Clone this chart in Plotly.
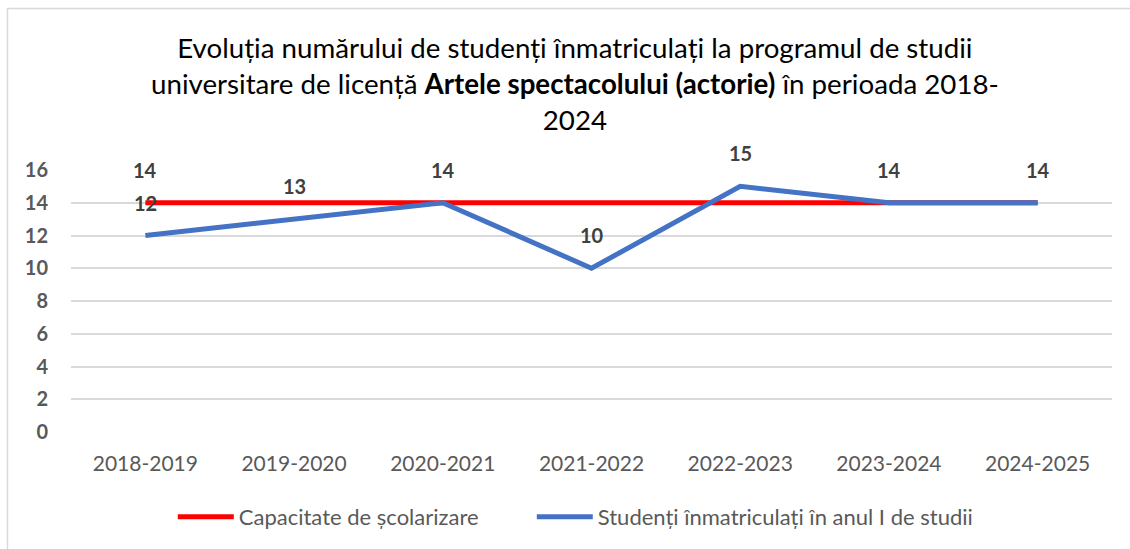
import plotly.graph_objects as go

categories = ["2018-2019", "2019-2020", "2020-2021", "2021-2022", "2022-2023", "2023-2024", "2024-2025"]
capacitate = [14, 14, 14, 14, 14, 14, 14]
studenti = [12, 13, 14, 10, 15, 14, 14]
y_ticks = [0, 2, 4, 6, 8, 10, 12, 14, 16]
# which points carry a visible data label in the reference
capacitate_labels = [True, False, False, False, False, False, False]
studenti_labels = [True, True, True, True, True, True, True]

series_names = ["Capacitate de școlarizare", "Studenți înmatriculați în anul I de studii"]
colors = ["#FF0000", "#4472C4"]

FONT = "Lato"
W, H = 1130, 549
L, R, T, B = 71, 18, 170, 117

pw = W - L - R
ph = H - T - B
def px(xp):
    return (xp - L) / pw
def py(yp):
    return (H - B - yp) / ph

legend_ids = ["legend", "legend2"]
legend_x = [178, 537]

fig = go.Figure()
for name, vals, shows, col, lg in zip(series_names, [capacitate, studenti],
                                      [capacitate_labels, studenti_labels], colors, legend_ids):
    fig.add_trace(go.Scatter(
        x=categories, y=vals, name=name, mode="lines",
        line=dict(color=col, width=5),
        hoverinfo="skip", legend=lg,
    ))
    for c, v, s in zip(categories, vals, shows):
        if s:
            fig.add_annotation(
                x=c, y=v, text=f"<b>{v}</b>", showarrow=False,
                yshift=33, font=dict(family=FONT, size=20, color="#404040"),
            )

# chart frame
fig.add_shape(type="rect", xref="paper", yref="paper",
              x0=px(7.5), x1=px(1140), y0=py(560), y1=py(8.5),
              line=dict(color="#D9D9D9", width=1.5), fillcolor="rgba(0,0,0,0)", layer="below")

fig.add_annotation(
    xref="paper", yref="paper", x=px(575), y=py(83), yanchor="middle", showarrow=False,
    text="Evoluția numărului de studenți înmatriculați la programul de studii<br>"
         "universitare de licență <b>Artele spectacolului (actorie)</b> în perioada 2018-<br>2024",
    font=dict(family=FONT, size=27.7, color="#000000"), align="center",
)

leg_common = dict(orientation="h", xanchor="left", y=py(517), yanchor="middle",
                  font=dict(family=FONT, size=22, color="#595959"),
                  itemwidth=56,
                  itemclick=False, itemdoubleclick=False, bgcolor="rgba(0,0,0,0)")

fig.update_layout(
    width=W, height=H,
    margin=dict(l=L, r=R, t=T, b=B, autoexpand=False),
    paper_bgcolor="white", plot_bgcolor="white",
    showlegend=True,
    legend=dict(x=px(legend_x[0]) - 0.005, **leg_common),
    legend2=dict(x=px(legend_x[1]) - 0.005, **leg_common),
    font=dict(family=FONT),
)
fig.update_xaxes(
    type="category", range=[-0.5, len(categories) - 0.5],
    showgrid=False, zeroline=False, showline=False,
    tickfont=dict(family=FONT, size=21, color="#595959"), ticks="", ticklabelstandoff=17,
)
fig.update_yaxes(
    range=[0, 16], tickvals=y_ticks, ticktext=[f"<b>{t}</b>" for t in y_ticks],
    showgrid=True, gridcolor="#D9D9D9", gridwidth=1.5, zeroline=False, showline=False,
    tickfont=dict(family=FONT, size=20, color="#595959"), ticks="", ticklabelstandoff=22,
)

fig.write_html("out.html", config={"displayModeBar": False},
               post_script="document.body.style.margin='0';")
